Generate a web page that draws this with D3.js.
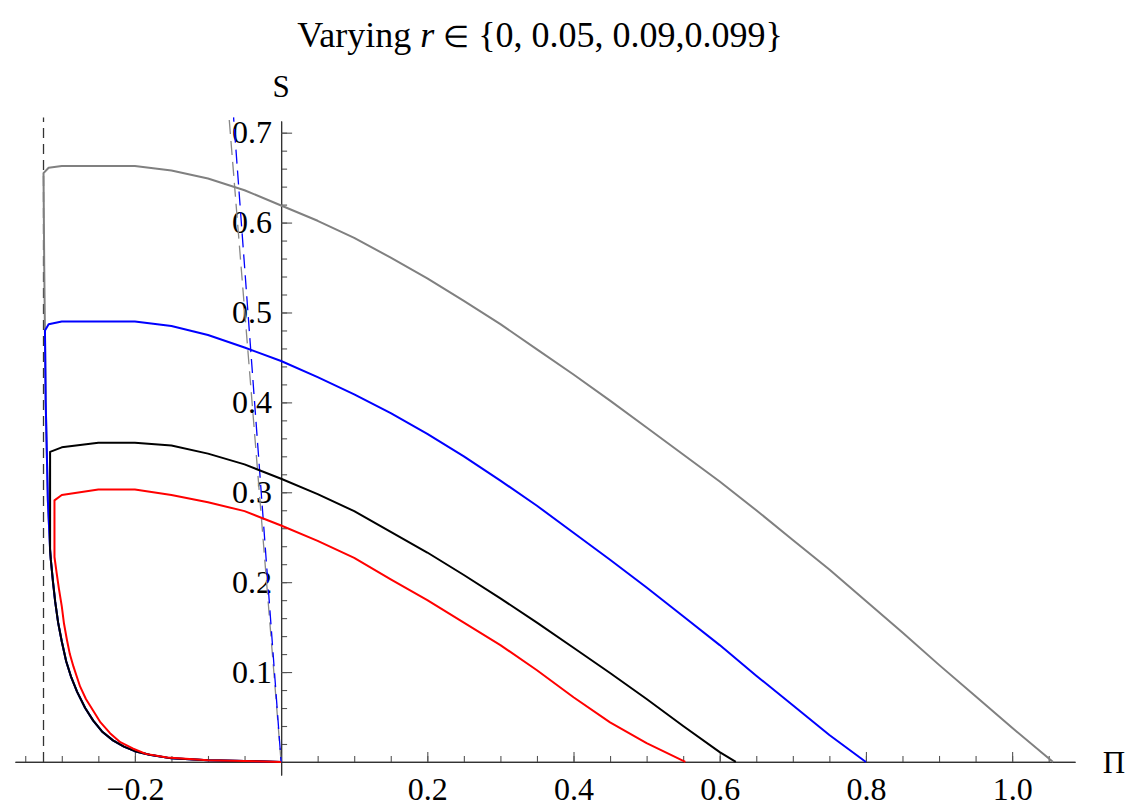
<!DOCTYPE html>
<html>
<head>
<meta charset="utf-8">
<script src="https://cdn.jsdelivr.net/npm/d3@7"></script>
<style>
  html, body { margin: 0; padding: 0; background: #fff; }
  svg { display: block; }
  text { font-family: "Liberation Serif", "Times New Roman", serif; fill: #000; }
</style>
</head>
<body>
<svg id="chart" width="1134" height="807"></svg>
<script>
// ---- Data (Π, S) ----
const lowerBranch = [
  [0,0],[-0.05,0.001],[-0.1,0.002],[-0.15,0.004],[-0.18,0.008],[-0.2,0.012],[-0.215,0.017],
  [-0.23,0.024],[-0.245,0.034],[-0.257,0.046],[-0.268,0.060],[-0.279,0.078],[-0.287,0.094],
  [-0.294,0.112],[-0.300,0.134],[-0.305,0.155],[-0.309,0.178],[-0.312,0.200],[-0.315,0.225],
  [-0.316,0.236]
];
const grayUpper = [
  [-0.319,0.29],[-0.322,0.40],[-0.324,0.55],[-0.325,0.655],
  [-0.318,0.661],[-0.30,0.663],[-0.2,0.663],[-0.15,0.658],[-0.1,0.649],[-0.05,0.636],[0,0.619],
  [0.05,0.602],[0.1,0.583],[0.15,0.561],[0.2,0.538],[0.25,0.513],[0.3,0.487],[0.35,0.459],
  [0.4,0.431],[0.45,0.402],[0.5,0.372],[0.55,0.342],[0.6,0.312],[0.65,0.280],[0.7,0.247],
  [0.75,0.214],[0.8,0.179],[0.85,0.144],[0.9,0.108],[0.95,0.073],[1.0,0.038],[1.056,0]
];
const blueUpper = [
  [-0.319,0.29],[-0.322,0.40],[-0.323,0.48],
  [-0.318,0.487],[-0.30,0.49],[-0.2,0.49],[-0.15,0.485],[-0.1,0.475],[-0.05,0.461],[0,0.446],
  [0.05,0.428],[0.1,0.409],[0.15,0.388],[0.2,0.365],[0.25,0.340],[0.3,0.313],[0.35,0.285],
  [0.4,0.255],[0.45,0.225],[0.5,0.194],[0.55,0.162],[0.6,0.130],[0.65,0.096],[0.7,0.063],
  [0.75,0.030],[0.8,0]
];
const blackUpper = [
  [-0.316,0.345],
  [-0.30,0.350],[-0.25,0.355],[-0.2,0.355],[-0.15,0.352],[-0.1,0.343],[-0.05,0.331],[0,0.315],
  [0.05,0.298],[0.1,0.279],[0.15,0.256],[0.2,0.233],[0.25,0.208],[0.3,0.182],[0.35,0.155],
  [0.4,0.127],[0.45,0.099],[0.5,0.070],[0.55,0.040],[0.6,0.011],[0.622,0]
];
const redCurve = [
  [0,0],[-0.05,0.001],[-0.1,0.002],[-0.156,0.005],[-0.185,0.009],[-0.203,0.015],[-0.22,0.022],
  [-0.234,0.032],[-0.247,0.044],[-0.257,0.057],[-0.267,0.070],[-0.275,0.084],[-0.284,0.106],
  [-0.289,0.120],[-0.293,0.136],[-0.297,0.154],[-0.300,0.173],[-0.304,0.193],[-0.307,0.210],
  [-0.310,0.228],[-0.310,0.291],
  [-0.30,0.297],[-0.25,0.303],[-0.2,0.303],[-0.15,0.297],[-0.1,0.289],[-0.05,0.279],[0,0.263],
  [0.05,0.246],[0.1,0.227],[0.15,0.203],[0.2,0.180],[0.25,0.155],[0.3,0.130],[0.35,0.102],
  [0.4,0.072],[0.45,0.044],[0.5,0.021],[0.553,0]
];
const blackDashed = [[-0.325,0],[-0.325,0.717]];
const grayDashed  = [[0,0],[-0.0712,0.717]];
const blueDashed  = [[0,0],[-0.0650,0.717]];

const xMajorTicks = [-0.2, 0.2, 0.4, 0.6, 0.8, 1.0];
const yMajorTicks = [0.1, 0.2, 0.3, 0.4, 0.5, 0.6, 0.7];
const xMinorTicks = d3.range(-0.35, 1.0601, 0.05).map(v => +v.toFixed(2)).filter(v => Math.abs(v) > 1e-9);
const yMinorTicks = d3.range(0.02, 0.7001, 0.02).map(v => +v.toFixed(2));

const titleText = "Varying ";
const xLabel = "\u03A0";
const yLabel = "S";

// ---- Scales ----
const svg = d3.select("#chart");
const x = d3.scaleLinear().domain([-0.364, 1.086]).range([15, 1075]);
const y = d3.scaleLinear().domain([-0.0145, 0.713]).range([775, 121]);

// ---- Axes ----
const fmt = d3.format(".1f");
const axisColor = "#333";

const xMinor = svg.append("g").attr("transform", `translate(0,${y(0)})`)
  .call(d3.axisBottom(x).tickValues(xMinorTicks).tickSize(-6).tickSizeOuter(0).tickFormat(""));
const xMajor = svg.append("g").attr("transform", `translate(0,${y(0)})`)
  .call(d3.axisBottom(x).tickValues(xMajorTicks).tickSize(-10).tickSizeOuter(0).tickPadding(15).tickFormat(fmt));
const yMinor = svg.append("g").attr("transform", `translate(${x(0)},0)`)
  .call(d3.axisLeft(y).tickValues(yMinorTicks).tickSize(-6).tickSizeOuter(0).tickFormat(""));
const yMajor = svg.append("g").attr("transform", `translate(${x(0)},0)`)
  .call(d3.axisLeft(y).tickValues(yMajorTicks).tickSize(-11).tickSizeOuter(0).tickPadding(9).tickFormat(fmt));

[xMinor, xMajor, yMinor, yMajor].forEach(g => {
  g.selectAll("path.domain").attr("stroke", axisColor).attr("stroke-width", 1.2);
  g.selectAll(".tick line").attr("stroke", "#555").attr("stroke-width", 1.1);
  g.selectAll(".tick text").attr("font-size", 32).attr("fill", "#000")
    .style("font-family", "'Liberation Serif', 'Times New Roman', serif");
});

// ---- Curves ----
const line = d3.line().x(d => x(d[0])).y(d => y(d[1]));
const plot = svg.append("g");

plot.append("path").datum(blackDashed).attr("d", line)
  .attr("fill", "none").attr("stroke", "#333").attr("stroke-width", 1.3).attr("stroke-dasharray", "10,6");
plot.append("path").datum(grayDashed).attr("d", line)
  .attr("fill", "none").attr("stroke", "#888").attr("stroke-width", 1.3).attr("stroke-dasharray", "14,7");
plot.append("path").datum(blueDashed).attr("d", line)
  .attr("fill", "none").attr("stroke", "#0000ff").attr("stroke-width", 1.3).attr("stroke-dasharray", "14,7").attr("stroke-dashoffset", 9);

const series = [
  { data: lowerBranch.concat(grayUpper), color: "#808080" },
  { data: lowerBranch.concat(blueUpper), color: "#0000ff" },
  { data: lowerBranch.concat(blackUpper), color: "#000000" },
  { data: redCurve, color: "#ff0000" }
];
series.forEach(s => {
  plot.append("path").datum(s.data).attr("d", line)
    .attr("fill", "none").attr("stroke", s.color).attr("stroke-width", 2)
    .attr("stroke-linejoin", "round");
});

// ---- Labels ----
const title = svg.append("text").attr("x", 540).attr("y", 47)
  .attr("text-anchor", "middle").attr("font-size", 36);
title.append("tspan").text(titleText);
title.append("tspan").attr("font-style", "italic").text("r");
title.append("tspan").text(" ");
title.append("tspan").attr("font-size", 30).text("\u2208");
title.append("tspan").text(" {0, 0.05, 0.09,0.099}");

svg.append("text").attr("x", x(0)).attr("y", 97).attr("text-anchor", "middle")
  .attr("font-size", 31).text(yLabel);
svg.append("text").attr("x", 1114).attr("y", 773).attr("text-anchor", "middle")
  .attr("font-size", 31).text(xLabel);
</script>
</body>
</html>
